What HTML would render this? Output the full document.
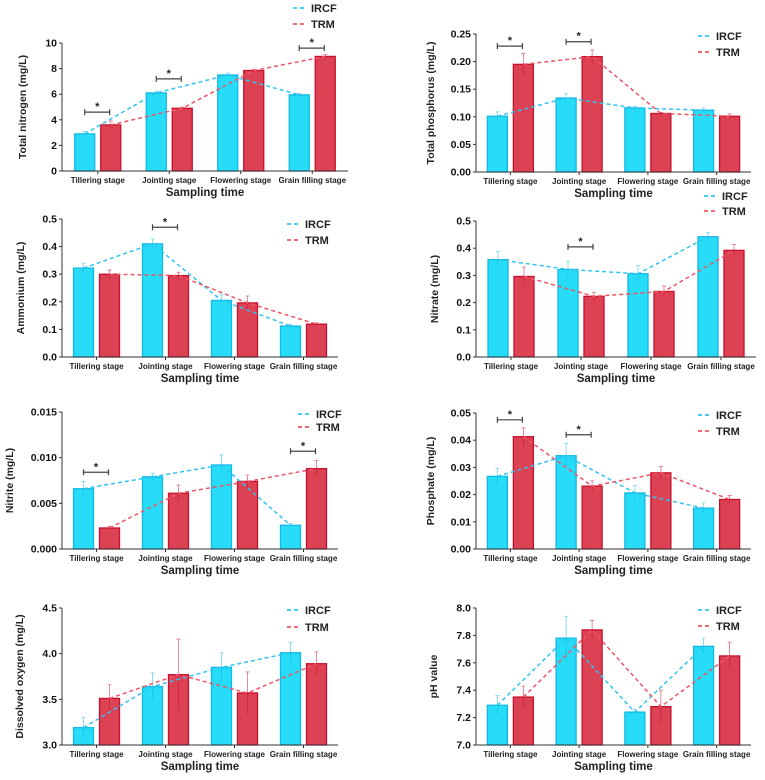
<!DOCTYPE html>
<html><head><meta charset="utf-8"><style>
html,body{margin:0;padding:0;background:#fff;}
svg{display:block;font-family:"Liberation Sans",Arial,sans-serif;}
</style></head><body>
<svg id="c" width="765" height="780" viewBox="0 0 765 780" xmlns="http://www.w3.org/2000/svg"></svg>
<script>
const categories = ["Tillering stage","Jointing stage","Flowering stage","Grain filling stage"];
const tnIRCF=[2.9,6.1,7.5,5.95], tnTRM=[3.6,4.9,7.85,8.95];
const tnErrI=[0.2,0.15,0.15,0.1], tnErrT=[0.3,0.1,0.1,0.15];
const tnSig=[0,1,3], tnSigY=[4.6,7.2,9.6];
const tpIRCF=[0.101,0.134,0.116,0.112], tpTRM=[0.195,0.209,0.106,0.101];
const tpErrI=[0.008,0.008,0.003,0.004], tpErrT=[0.02,0.012,0.002,0.004];
const tpSig=[0,1], tpSigY=[0.228,0.236];
const amIRCF=[0.322,0.41,0.205,0.112], amTRM=[0.3,0.295,0.196,0.119];
const amErrI=[0.018,0.018,0.02,0.006], amErrT=[0.015,0.012,0.025,0.005];
const amSig=[1], amSigY=[0.47];
const niIRCF=[0.358,0.322,0.306,0.442], niTRM=[0.296,0.223,0.241,0.392];
const niErrI=[0.03,0.03,0.03,0.015], niErrT=[0.035,0.015,0.02,0.022];
const niSig=[1], niSigY=[0.405];
const nrIRCF=[0.0066,0.0079,0.0092,0.0026], nrTRM=[0.0023,0.0061,0.0074,0.0088];
const nrErrI=[0.0008,0.0004,0.0011,0.0002], nrErrT=[0.0002,0.0009,0.0007,0.0009];
const nrSig=[0,3], nrSigY=[0.0084,0.0107];
const phIRCF=[0.0267,0.0343,0.0206,0.015], phTRM=[0.0413,0.0231,0.028,0.0182];
const phErrI=[0.003,0.0045,0.0028,0.002], phErrT=[0.0032,0.002,0.0023,0.0015];
const phSig=[0,1], phSigY=[0.0475,0.042];
const doIRCF=[3.19,3.64,3.85,4.01], doTRM=[3.51,3.77,3.57,3.89];
const doErrI=[0.11,0.15,0.16,0.11], doErrT=[0.15,0.39,0.23,0.13];
const pvIRCF=[7.29,7.78,7.24,7.72], pvTRM=[7.35,7.84,7.28,7.65];
const pvErrI=[0.07,0.16,0.02,0.06], pvErrT=[0.08,0.07,0.12,0.1];
const tnTicks=["0","2","4","6","8","10"], tpTicks=["0.00","0.05","0.10","0.15","0.20","0.25"];
const amTicks=["0.0","0.1","0.2","0.3","0.4","0.5"], niTicks=amTicks;
const nrTicks=["0.000","0.005","0.010","0.015"], phTicks=["0.00","0.01","0.02","0.03","0.04","0.05"];
const doTicks=["3.0","3.5","4.0","4.5"], pvTicks=["7.0","7.2","7.4","7.6","7.8","8.0"];

const svg=document.getElementById('c');
const NS='http://www.w3.org/2000/svg';
function mk(tag,attrs,parent){const e=document.createElementNS(NS,tag);for(const k in attrs)e.setAttribute(k,attrs[k]);(parent||svg).appendChild(e);return e;}

function panel(o){
  const g=mk('g',{});
  
  
  const ymin=+o.ticks[0], ymax=+o.ticks[o.ticks.length-1];
  const Y=v=>o.y0-(v-ymin)/(ymax-ymin)*(o.y0-o.yTop);
  const w=(o.xEnd-o.ax)/categories.length;
  const X=i=>o.ax+(i+0.5)*w;
  const bw=20;
  // bars
  [[o.a,o.ea,'#26dcf6','#12b8e6',-23,'ircf'],[o.b,o.eb,'#dd4254','#c80f2c',3,'trm']].forEach(s=>{
    s[0].forEach((v,i)=>{
      const r=mk('rect',{x:X(i)+s[4],y:Y(v),width:bw,height:o.y0-Y(v),fill:s[2],stroke:s[3],'stroke-width':1.3},g);
      
      
      const cx=X(i)+s[4]+bw/2;
      const e=mk('path',{d:`M${cx},${Y(v-s[1][i])}V${Y(v+s[1][i])}M${cx-2},${Y(v+s[1][i])}H${cx+2}`,stroke:s[3],'stroke-width':0.8,opacity:0.6,fill:'none'},g);
      
      
    });
  });
  // lines
  [[o.a,'#2fc4f2',-13,'ircf'],[o.b,'#ef5566',13,'trm']].forEach(s=>{
    const p=mk('polyline',{points:s[0].map((v,i)=>(X(i)+s[2])+','+Y(v)).join(' '),fill:'none',stroke:s[1],'stroke-width':1.5,'stroke-dasharray':'4,3'},g);
    
    
  });
  // axes
  const ax=mk('path',{d:`M${o.ax},${o.yTop}V${o.y0}H${o.xEnd}`,stroke:'#333','stroke-width':1,fill:'none'},g);
  
  
  o.ticks.forEach(t=>{
    const y=Y(+t);
    mk('line',{x1:o.ax-3,x2:o.ax,y1:y,y2:y,stroke:'#333'},g);
    const tx=mk('text',{x:o.ax-5,y:y+3.5,'text-anchor':'end','font-size':10.5,'font-weight':'bold',fill:'#111'},g);
    tx.textContent=t;
    
    
  });
  categories.forEach((c,i)=>{
    mk('line',{x1:X(i),x2:X(i),y1:o.y0,y2:o.y0+3,stroke:'#333'},g);
    const tx=mk('text',{x:X(i),y:o.y0+12,'text-anchor':'middle','font-size':8,'font-weight':'bold',fill:'#222'},g);
    tx.textContent=c;
    
    
  });
  const xt=mk('text',{x:(o.ax+o.xEnd)/2,y:o.y0+25,'text-anchor':'middle','font-size':11.5,'font-weight':'bold',fill:'#222'},g);
  xt.textContent='Sampling time';
  
  
  const yc=(o.yTop+o.y0)/2;
  const yt=mk('text',{x:o.tx,y:yc,'text-anchor':'middle','font-size':10.5,'font-weight':'bold',fill:'#222',transform:`rotate(-90 ${o.tx} ${yc})`},g);
  yt.textContent=o.title;
  
  
  // significance
  (o.sig||[]).forEach((i,k)=>{
    const y=Y(o.sigY[k]), x1=X(i)-13, x2=X(i)+12;
    const b=mk('path',{d:`M${x1},${y-3}V${y+3}M${x1},${y}H${x2}M${x2},${y-3}V${y+3}`,stroke:'#444','stroke-width':1.2,fill:'none'},g);
    
    
    const s=mk('text',{x:(x1+x2)/2,y:y-2,'text-anchor':'middle','font-size':11,'font-weight':'bold',fill:'#222'},g);
    s.textContent='*';
    
    
  });
  // legend
  [['IRCF','#2fc4f2',o.ly1],['TRM','#ef5566',o.ly2]].forEach(l=>{
    const lg=mk('g',{},g);
    
    
    mk('line',{x1:o.lx,x2:o.lx+14,y1:l[2],y2:l[2],stroke:l[1],'stroke-width':1.8,'stroke-dasharray':'4,3'},lg);
    const t=mk('text',{x:o.lx+18,y:l[2]+4,'font-size':11,'font-weight':'bold',fill:'#222'},lg);
    t.textContent=l[0];
  });
}
panel({name:'total-nitrogen',ax:62,xEnd:348,yTop:43,y0:171,ticks:tnTicks,a:tnIRCF,b:tnTRM,ea:tnErrI,eb:tnErrT,sig:tnSig,sigY:tnSigY,title:'Total nitrogen (mg/L)',tx:26,lx:293,ly1:8,ly2:24});
panel({name:'total-phosphorus',ax:476,xEnd:751,yTop:34,y0:172,ticks:tpTicks,a:tpIRCF,b:tpTRM,ea:tpErrI,eb:tpErrT,sig:tpSig,sigY:tpSigY,title:'Total phosphorus (mg/L)',tx:434,lx:698,ly1:36,ly2:52});
panel({name:'ammonium',ax:62,xEnd:338,yTop:219,y0:357,ticks:amTicks,a:amIRCF,b:amTRM,ea:amErrI,eb:amErrT,sig:amSig,sigY:amSigY,title:'Ammonium (mg/L)',tx:24,lx:287,ly1:224,ly2:240});
panel({name:'nitrate',ax:476,xEnd:756,yTop:221,y0:357,ticks:niTicks,a:niIRCF,b:niTRM,ea:niErrI,eb:niErrT,sig:niSig,sigY:niSigY,title:'Nitrate (mg/L)',tx:438,lx:704,ly1:196,ly2:211});
panel({name:'nitrite',ax:62,xEnd:338,yTop:412,y0:549,ticks:nrTicks,a:nrIRCF,b:nrTRM,ea:nrErrI,eb:nrErrT,sig:nrSig,sigY:nrSigY,title:'Nitrite (mg/L)',tx:13,lx:298,ly1:414,ly2:427});
panel({name:'phosphate',ax:476,xEnd:751,yTop:413,y0:549,ticks:phTicks,a:phIRCF,b:phTRM,ea:phErrI,eb:phErrT,sig:phSig,sigY:phSigY,title:'Phosphate (mg/L)',tx:434,lx:698,ly1:415,ly2:431});
panel({name:'dissolved-oxygen',ax:62,xEnd:338,yTop:608,y0:745,ticks:doTicks,a:doIRCF,b:doTRM,ea:doErrI,eb:doErrT,title:'Dissolved oxygen (mg/L)',tx:23,lx:287,ly1:610,ly2:627});
panel({name:'ph-value',ax:476,xEnd:751,yTop:608,y0:745,ticks:pvTicks,a:pvIRCF,b:pvTRM,ea:pvErrI,eb:pvErrT,title:'pH value',tx:437,lx:698,ly1:610,ly2:626});
</script>
</body></html>
